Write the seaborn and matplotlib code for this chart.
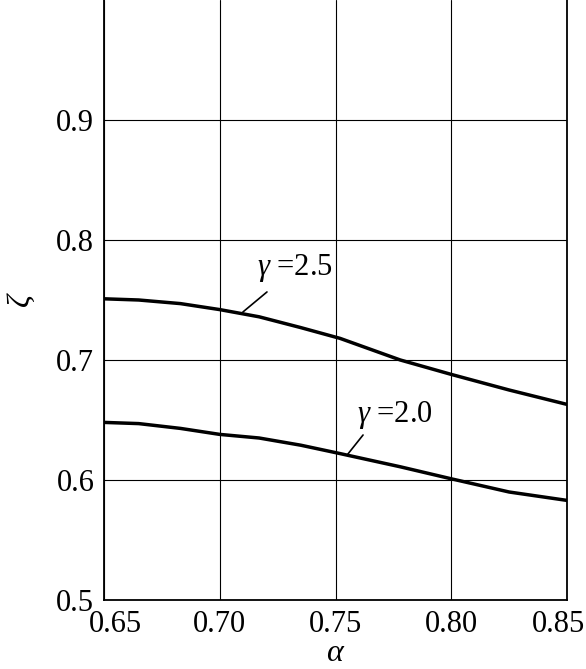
import matplotlib
matplotlib.use("Agg")
import matplotlib.pyplot as plt
import matplotlib.transforms as mtransforms
import seaborn as sns
import pandas as pd

# Data
alpha = [0.65, 0.665, 0.683, 0.70, 0.717, 0.735, 0.752, 0.778, 0.80, 0.825, 0.85]
zeta_g25 = [0.751, 0.750, 0.747, 0.742, 0.736, 0.727, 0.718, 0.700, 0.688, 0.675, 0.663]
zeta_g20 = [0.648, 0.647, 0.643, 0.638, 0.635, 0.629, 0.622, 0.611, 0.601, 0.590, 0.583]
series_names = ["γ=2.5", "γ=2.0"]
x_ticks = [0.65, 0.70, 0.75, 0.80, 0.85]
x_ticklabels = ["0.65", "0.70", "0.75", "0.80", "0.85"]
y_ticks = [0.5, 0.6, 0.7, 0.8, 0.9]
y_ticklabels = ["0.5", "0.6", "0.7", "0.8", "0.9"]

df = pd.concat([
    pd.DataFrame({"alpha": alpha, "zeta": zeta_g25, "gamma": series_names[0]}),
    pd.DataFrame({"alpha": alpha, "zeta": zeta_g20, "gamma": series_names[1]}),
])

sns.set_theme(style="white")
plt.rcParams["font.family"] = ["Liberation Serif", "DejaVu Serif"]
plt.rcParams["mathtext.fontset"] = "custom"
plt.rcParams["mathtext.rm"] = "Liberation Serif"
plt.rcParams["mathtext.it"] = "Liberation Serif:italic"

fig = plt.figure(figsize=(5.86, 6.69), dpi=100)
ax = fig.add_axes([104/586, 1 - 600/669, (567-104)/586, 600/669])

sns.lineplot(data=df, x="alpha", y="zeta", hue="gamma", units="gamma",
             estimator=None, palette=["black", "black"], linewidth=2.5,
             legend=False, ax=ax)

ax.set_xlim(0.65, 0.85)
ax.set_ylim(0.5, 1.0)
ax.set_xticks(x_ticks)
ax.set_xticklabels(x_ticklabels)
ax.set_yticks(y_ticks)
ax.set_yticklabels(y_ticklabels)
ax.tick_params(axis="both", length=0, labelsize=22, colors="black")
ax.tick_params(axis="x", pad=7)
ax.tick_params(axis="y", pad=7)
ax.grid(True, color="black", linewidth=0.8)
for s in ["left", "right", "bottom"]:
    ax.spines[s].set_color("black")
    ax.spines[s].set_linewidth(1.3)
ax.spines["top"].set_visible(False)

# nudge the outer x tick labels inward like the reference
xl = ax.get_xticklabels()
xl[0].set_transform(xl[0].get_transform() + mtransforms.ScaledTranslation(11/100, 0, fig.dpi_scale_trans))
xl[-1].set_transform(xl[-1].get_transform() + mtransforms.ScaledTranslation(-8/100, 0, fig.dpi_scale_trans))

ax.set_xlabel(r"$\alpha$", fontsize=23, labelpad=0, color="black")
ax.set_ylabel(r"$\zeta$", fontsize=23, labelpad=14, color="black")

ax.text(0.716, 0.7767, r"$\gamma$ =2.5", fontsize=22, ha="left", va="center", color="black")
ax.plot([0.7204, 0.7100], [0.7567, 0.7400], color="black", linewidth=1.2)
ax.text(0.7593, 0.654, r"$\gamma$ =2.0", fontsize=22, ha="left", va="center", color="black")
ax.plot([0.7619, 0.7550], [0.6375, 0.6208], color="black", linewidth=1.2)

fig.savefig("out.png", dpi=100)
